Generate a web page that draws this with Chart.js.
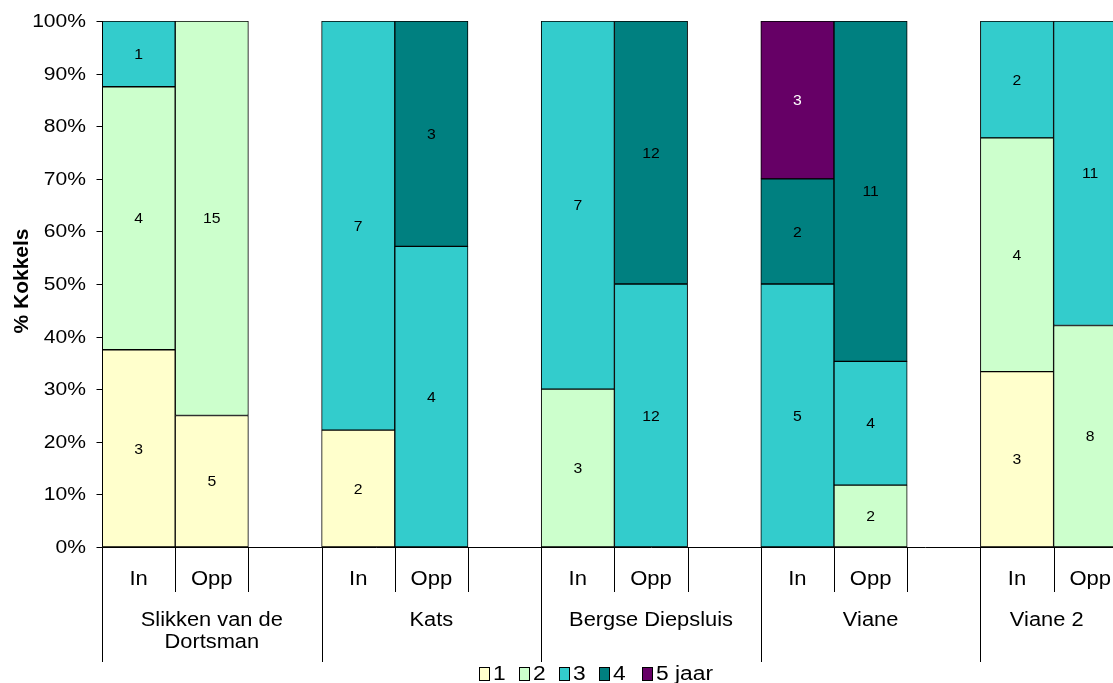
<!DOCTYPE html>
<html>
<head>
<meta charset="utf-8">
<script src="https://cdn.jsdelivr.net/npm/chart.js@4/dist/chart.umd.min.js"></script>
<style>
  html, body { margin: 0; padding: 0; background: #fff; overflow: hidden; }
  #wrap { position: relative; width: 1200px; height: 683px; }
</style>
</head>
<body>
<div id="wrap"><canvas id="chart" width="1200" height="683"></canvas></div>
<script>
// categories: each site has In / Opp plus an empty spacer slot
const sites = ["Slikken van de|Dortsman", "Kats", "Bergse Diepsluis", "Viane", "Viane 2"];
const slots = ["In", "Opp", "", "In", "Opp", "", "In", "Opp", "", "In", "Opp", "", "In", "Opp", ""];

// counts per age class (null = none)
const age1 = [3, 5, null, 2, null, null, null, null, null, null, null, null, 3, null, null];
const age2 = [4, 15, null, null, null, null, 3, null, null, null, 2, null, 4, 8, null];
const age3 = [1, null, null, 7, 4, null, 7, 12, null, 5, 4, null, 2, 11, null];
const age4 = [null, null, null, null, 3, null, null, 12, null, 2, 11, null, null, null, null];
const age5 = [null, null, null, null, null, null, null, null, null, 3, null, null, null, null, null];

const seriesNames = ["1", "2", "3", "4", "5 jaar"];
const seriesColors = ["#FFFFCC", "#CCFFCC", "#33CCCC", "#008080", "#660066"];
const labelColors = ["#000", "#000", "#000", "#000", "#fff"];
const yTicks = [0, 10, 20, 30, 40, 50, 60, 70, 80, 90, 100];

const counts = [age1, age2, age3, age4, age5];
const totals = slots.map((_, i) => counts.reduce((s, a) => s + (a[i] || 0), 0));

const datasets = counts.map((arr, k) => ({
    label: seriesNames[k],
    counts: arr,
    data: arr.map((v, i) => v ? v / totals[i] * 100 : null),
    backgroundColor: seriesColors[k],
    borderColor: "#000",
    borderWidth: 1,
    borderSkipped: false,
    barPercentage: 1,
    categoryPercentage: 1
}));

const FONT = "Arial, 'Liberation Sans', sans-serif";
const VISIBLE_W = 1113; // the plot runs past the right edge of the picture

// text slightly stretched horizontally, like the original export
function txt(ctx, s, x, y, size, align, sx, bold) {
    ctx.save();
    ctx.font = (bold ? "bold " : "") + size + "px " + FONT;
    ctx.textAlign = align;
    ctx.textBaseline = "middle";
    ctx.translate(x, y);
    ctx.scale(sx, 1);
    ctx.fillText(s, 0, 0);
    ctx.restore();
}

const extras = {
    id: "extras",
    afterDatasetsDraw(chart) {
        const ctx = chart.ctx;
        const x = chart.scales.x, y = chart.scales.y;
        const ca = chart.chartArea;
        const slotW = x.getPixelForValue(1) - x.getPixelForValue(0);
        ctx.save();

        // segment value labels
        chart.data.datasets.forEach((ds, k) => {
            chart.getDatasetMeta(k).data.forEach((bar, i) => {
                if (!ds.counts[i]) return;
                ctx.fillStyle = labelColors[k];
                txt(ctx, String(ds.counts[i]), bar.x, (bar.y + bar.base) / 2 + 1, 15, "center", 1.05);
            });
        });

        ctx.strokeStyle = "#000";
        ctx.fillStyle = "#000";
        ctx.lineWidth = 1;
        const base = Math.round(y.getPixelForValue(0)) + 0.5;
        const left = Math.round(ca.left) + 0.5;

        // axis lines
        ctx.beginPath();
        ctx.moveTo(left, base);
        ctx.lineTo(ca.right, base);
        ctx.moveTo(left, Math.round(y.getPixelForValue(100)));
        ctx.lineTo(left, base);
        ctx.stroke();

        // y ticks + labels
        yTicks.forEach(v => {
            const py = Math.round(y.getPixelForValue(v)) + 0.5;
            ctx.beginPath();
            ctx.moveTo(left - 6, py);
            ctx.lineTo(left, py);
            ctx.stroke();
            txt(ctx, v + "%", 86, py + 1, 18, "right", 1.17);
        });

        // separators
        slots.forEach((s, i) => {
            const xl = Math.round(x.getPixelForValue(i) - slotW / 2) + 0.5;
            const long = i % 3 === 0;
            ctx.beginPath();
            ctx.moveTo(xl, base);
            ctx.lineTo(xl, long ? 662 : 592);
            ctx.stroke();
        });

        // slot labels
        slots.forEach((s, i) => {
            if (s) txt(ctx, s, x.getPixelForValue(i), 580, 19.5, "center", 1.13);
        });

        // site labels, centred on the visible part of each group
        sites.forEach((name, g) => {
            const gl = x.getPixelForValue(g * 3) - slotW / 2;
            const gr = Math.min(gl + 3 * slotW, VISIBLE_W);
            const cx = (gl + gr) / 2;
            name.split("|").forEach((ln, j) => txt(ctx, ln, cx, 621 + j * 22, 19.5, "center", 1.12));
        });

        // legend
        const lx = [479, 519, 559, 599, 642];
        seriesNames.forEach((n, k) => {
            ctx.fillStyle = seriesColors[k];
            ctx.fillRect(lx[k], 667, 11, 14);
            ctx.strokeRect(lx[k] + 0.5, 667.5, 10, 13);
            ctx.fillStyle = "#000";
            txt(ctx, n, lx[k] + 14, 674, 20, "left", 1.14);
        });

        // y title
        ctx.translate(22, 281);
        ctx.rotate(-Math.PI / 2);
        txt(ctx, "% Kokkels", 0, 0, 21, "center", 1, true);
        ctx.restore();
    }
};

new Chart(document.getElementById("chart"), {
    type: "bar",
    data: { labels: slots, datasets: datasets },
    options: {
        responsive: false,
        animation: false,
        layout: { padding: { top: 21, right: 0, left: 0, bottom: 0 } },
        plugins: { legend: { display: false }, tooltip: { enabled: false } },
        scales: {
            x: {
                stacked: true,
                grid: { display: false },
                border: { display: false },
                ticks: { display: false },
                afterFit: s => { s.height = 136; }
            },
            y: {
                stacked: true,
                min: 0, max: 100,
                afterFit: s => { s.width = 102; },
                afterBuildTicks: s => { s.ticks = yTicks.map(v => ({ value: v })); },
                grid: { display: false },
                border: { display: false },
                ticks: { display: false }
            }
        }
    },
    plugins: [extras]
});
</script>
</body>
</html>
